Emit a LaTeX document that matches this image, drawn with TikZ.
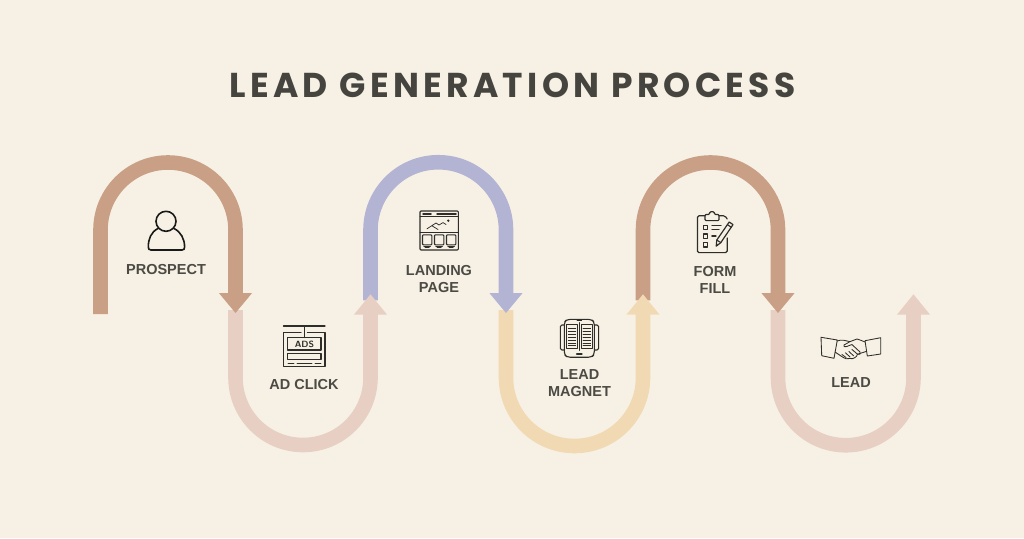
\documentclass[tikz,border=0pt]{standalone}
\usepackage{fontspec}
\setmainfont{Liberation Sans}
\newfontfamily\titlefont[LetterSpace=12.5]{Poppins}
\usetikzlibrary{calc}
\definecolor{bgc}{HTML}{F7F1E5}
\definecolor{brownc}{HTML}{C9A085}
\definecolor{pinkc}{HTML}{E8CFC3}
\definecolor{bluec}{HTML}{B3B3D3}
\definecolor{yellowc}{HTML}{F1DAB3}
\definecolor{textc}{HTML}{4C4A44}
\definecolor{titlec}{HTML}{45443F}
\definecolor{inkc}{HTML}{2E2D29}
\tikzset{
  seg/.style={line width=14.6pt,line cap=butt,line join=round},
  lab/.style={font=\fontsize{14.5}{17}\selectfont\bfseries,text=textc,align=center,inner sep=0pt},
  ico/.style={draw=inkc,line width=1.1pt,line join=round,line cap=round},
  thin/.style={draw=inkc,line width=0.75pt,line join=round,line cap=round},
}
\newcommand{\headdown}[2]{\fill[#2] ($(#1)+(-16.6,-20)$) -- (#1) -- ($(#1)+(16.6,-20)$) -- cycle;}
\newcommand{\headup}[2]{\fill[#2] ($(#1)+(-16.6,20.4)$) -- (#1) -- ($(#1)+(16.6,20.4)$) -- cycle;}
\begin{document}
\begin{tikzpicture}[x=1pt,y=-1pt]
\useasboundingbox (0,0) rectangle (1024,538);
\fill[bgc] (0,0) rectangle (1024,538);
\node[inner sep=0pt,text=titlec] (title) at (512.5,85) {\fontsize{34.5}{40}\selectfont\titlefont\bfseries LEAD GENERATION PROCESS};

% arrow tips
\coordinate (t1) at (235.5,313);
\coordinate (t2) at (370.5,294.3);
\coordinate (t3) at (506,313);
\coordinate (t4) at (643,294.3);
\coordinate (t5) at (778,313);
\coordinate (t6) at (913.5,294.3);

% shafts
\draw[seg,brownc] (100.5,314) -- ++(0,-84) arc[start angle=180,end angle=360,radius=67.5] -- ($(t1)+(0,-18)$);
\draw[seg,pinkc] ($(t1)+(0,-3)$) -- ++(0,67.5) arc[start angle=180,end angle=0,radius=67.5] -- ($(t2)+(0,18)$);
\draw[seg,bluec] ($(t2)+(0,6)$) -- ++(0,-70.3) arc[start angle=180,end angle=360,radius=67.75] -- ($(t3)+(0,-18)$);
\draw[seg,yellowc] ($(t3)+(0,-3)$) -- ++(0,67.5) arc[start angle=180,end angle=0,radius=68.5] -- ($(t4)+(0,18)$);
\draw[seg,brownc] ($(t4)+(0,6)$) -- ++(0,-70.3) arc[start angle=180,end angle=360,radius=67.5] -- ($(t5)+(0,-18)$);
\draw[seg,pinkc] ($(t5)+(0,-3)$) -- ++(0,67.5) arc[start angle=180,end angle=0,radius=67.75] -- ($(t6)+(0,18)$);

% arrow heads
\headdown{t1}{brownc}
\headup{t2}{pinkc}
\headdown{t3}{bluec}
\headup{t4}{yellowc}
\headdown{t5}{brownc}
\headup{t6}{pinkc}

% labels
\node[lab] (prospect) at (166,269.8) {PROSPECT};
\node[lab] (adclick) at (304,384.8) {AD CLICK};
\node[lab] (landing) at (439,279.2) {LANDING\\PAGE};
\node[lab] (magnet) at (579.5,383.3) {LEAD\\MAGNET};
\node[lab] (form) at (715,279.6) {FORM\\FILL};
\node[lab] (lead) at (851,382.6) {LEAD};

% person icon
\draw[ico,line width=1.6pt,draw=black!90] (166,221.3) circle[radius=10];
\draw[ico,line width=1.6pt,draw=black!90] (158,228.5) .. controls (151,232) and (148.3,239) .. (148.3,247) .. controls (148.3,249) and (149,250) .. (151,250) -- (182,250) .. controls (184,250) and (184.6,249) .. (184.6,247) .. controls (184.6,239) and (181,232) .. (174,228.5);

% ADS icon
\draw[ico] (283.5,326) -- (325,326);
\draw[thin] (304.4,326) -- (304.4,337.7);
\draw[ico] (301,332.8) -- (283.5,332.8) -- (283.5,366.8) -- (325,366.8) -- (325,332.8) -- (307.5,332.8);
\draw[ico] (287.8,337.7) rectangle (321,350);
\draw[ico] (287.8,353.3) rectangle (321,359.3);
\draw[thin] (288,363.3) -- (294,363.3) (297,363.3) -- (312,363.3) (315,363.3) -- (321,363.3);
\node[inner sep=0pt,text=inkc] (adstext) at (304.4,344) {\fontsize{9}{9}\selectfont\sffamily\bfseries ADS};

% landing page icon
\draw[ico,rounded corners=1pt] (420,211) rectangle (458.3,250);
\draw[thin] (420,216.7) -- (458.3,216.7) (420,232.3) -- (458.3,232.3);
\draw[ico,line width=1.5pt] (423,214) -- (431,214) (437,213.9) -- (456,213.9);
\fill[inkc] (448.3,220.7) circle[radius=1.3];
\draw[thin] (427,228.8) -- (436,223) -- (439,225) -- (443,222.6) -- (446,224.5) (432,225.8) -- (438,229.5);
\foreach \x in {422.5,434.5,446.5} {
  \draw[ico,rounded corners=0.8pt] (\x,234.8) rectangle (\x+9.3,244.8);
  \draw[thin] (\x+1.3,246.2) -- (\x+8,246.2);
  \draw[thin] (\x+2.5,247.8) -- (\x+6.8,247.8);
}

% book icon
\draw[ico,rounded corners=1.5pt] (564.3,325) -- (560.4,325) -- (560.4,350) -- (564.3,350);
\draw[ico,rounded corners=1.5pt] (594.3,325) -- (598.6,325) -- (598.6,350) -- (594.3,350);
\draw[ico,rounded corners=3pt] (564.3,350) -- (564.3,322) -- (567,319.4) -- (591.5,319.4) -- (594.3,322) -- (594.3,354.5) -- (591.5,357.2) -- (567,357.2) -- (564.3,354.5) -- cycle;
\draw[thin] (579.3,322.5) -- (579.3,350.5) (566.8,324.5) -- (577.3,324.5) -- (577.3,348.5) -- (566.8,348.5) -- cycle (581.4,324.5) -- (592,324.5) -- (592,348.5) -- (581.4,348.5) -- cycle;
\foreach \y in {328,331,334,337,340,343,345.7} {
  \draw[thin,line width=0.6pt] (568.2,\y) -- (575.8,\y) (583,\y) -- (590.6,\y);
}
\draw[ico,line width=1.8pt] (576.8,353.6) -- (581.8,353.6);
\draw[thin] (577,320.8) -- (581.6,320.8);

% clipboard icon
\draw[ico,line width=1.2pt,rounded corners=1.5pt] (705,215.8) -- (697.4,215.8) -- (697.4,252.6) -- (727.2,252.6) -- (727.2,238);
\draw[ico,line width=1.2pt,rounded corners=1.5pt] (719,215.8) -- (725,215.8) -- (727.2,219);
\draw[ico,line width=1.2pt,rounded corners=1pt] (705,220.6) -- (705,214.5) -- (709.3,214.5) -- (710,211.7) -- (714,211.7) -- (714.7,214.5) -- (719,214.5) -- (719,220.6) -- cycle;
\draw[ico] (703.3,225.3) rectangle (707.7,229.6);
\draw[ico] (703.3,234) rectangle (707.7,238.2);
\draw[ico] (703.3,242.7) rectangle (707.7,247);
\draw[ico] (711.8,225.6) -- (721,225.6) (711.8,229.2) -- (719,229.2) (711.8,236) -- (716,236);
\draw[ico,line width=1.2pt] (716.2,246.2) -- (716.8,240) -- (729.2,222) -- (733,224.6) -- (720.8,242.6) -- cycle;
\draw[ico] (716.8,240) -- (720.8,242.6) (727.4,224.6) -- (731.2,227.2);

% handshake icon
\draw[thin,line width=0.85pt] (821,337.3) -- (837.3,340) -- (834,358.3) -- (821.7,355.7) -- cycle;
\draw[thin,line width=0.85pt] (865,340.7) -- (880.7,337.7) -- (880.7,354) -- (867.3,356) -- cycle;
\draw[thin,line width=0.85pt] (837,341) .. controls (842,339) and (846,341) .. (850,341.6) -- (857,339) .. controls (860,340) and (863,341) .. (865,342);
\draw[thin,line width=0.85pt] (850,341.6) -- (844,345) .. controls (843,347) and (846,347.3) .. (849,345.6) -- (852,344.6) -- (860,352) .. controls (861.5,354) and (859,355.2) .. (857.5,354.2);
\draw[thin,line width=0.85pt] (835,352) -- (841,356) .. controls (845,359) and (848,359.5) .. (850,358.5) .. controls (853,359.5) and (857,357) .. (857.5,354.2) -- (852,349.5);
\draw[thin,line width=0.85pt] (857.5,354.2) -- (866,351.5);
\draw[thin,line width=0.85pt] (842,354.5) -- (846,357.5) (845.5,352.8) -- (850,357) (849,351.5) -- (853.5,355.8);
\end{tikzpicture}
\end{document}
